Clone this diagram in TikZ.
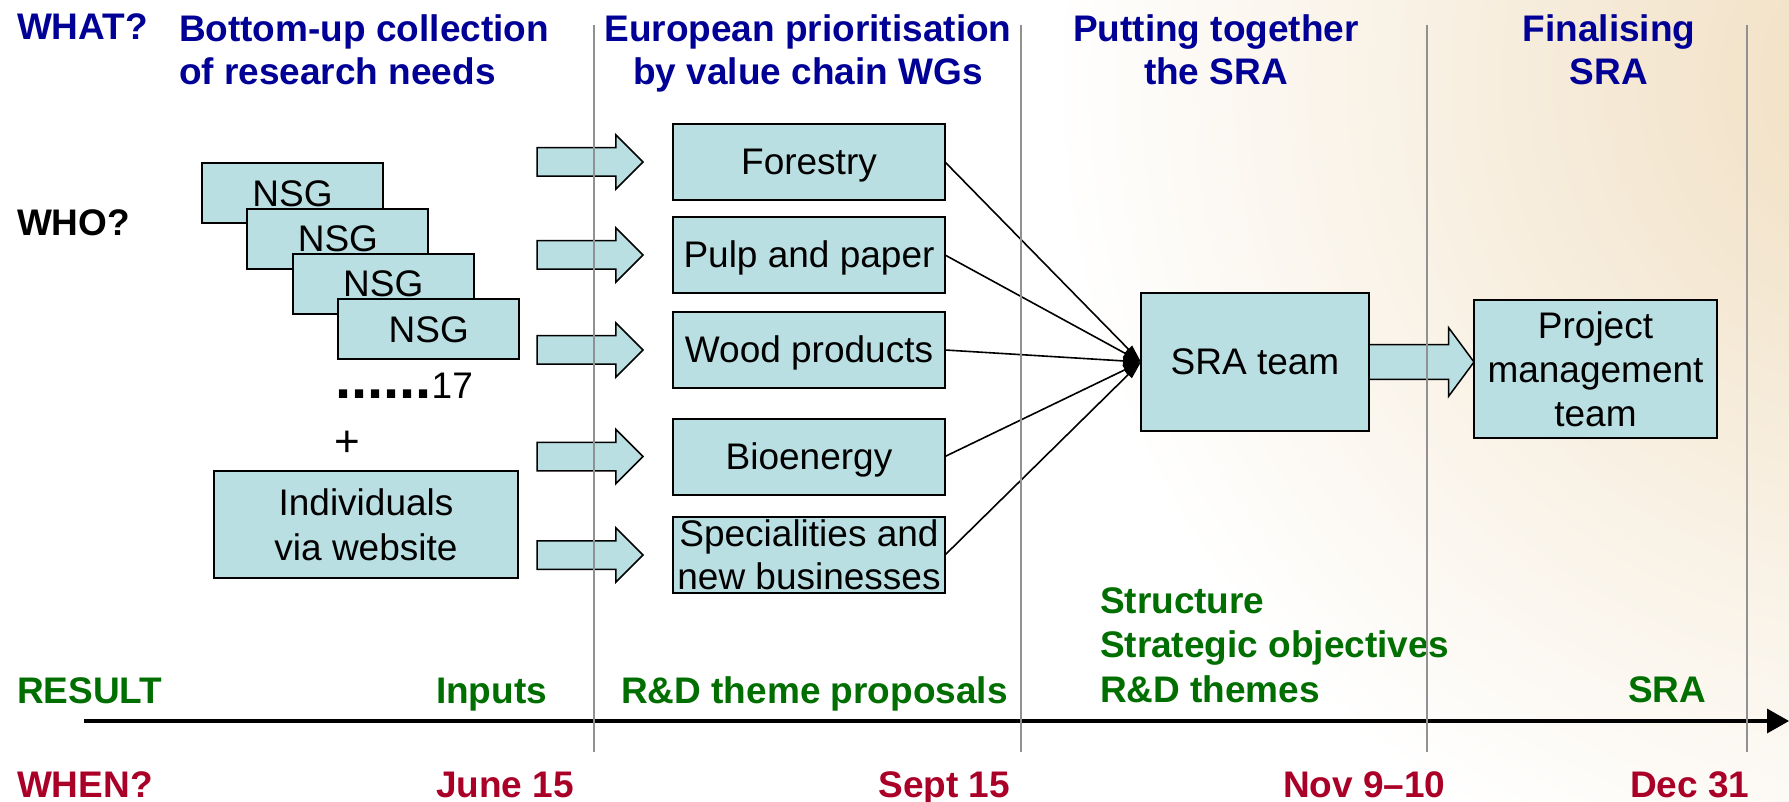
\documentclass[tikz,border=0pt]{standalone}
\usepackage{fontspec}
\setmainfont{Liberation Sans}
\usetikzlibrary{shapes.arrows,arrows.meta,calc}
\definecolor{navy}{RGB}{0,0,150}
\definecolor{dgreen}{RGB}{0,110,0}
\definecolor{dred}{RGB}{170,0,40}
\definecolor{boxfill}{RGB}{186,223,226}
\definecolor{bgbeige}{RGB}{240,222,192}
\definecolor{vgray}{RGB}{145,145,145}
\newcommand\fsbox{\fontsize{37}{43}\selectfont}
\tikzset{
  box/.style={draw=black, line width=2pt, fill=boxfill, font=\fsbox, align=center, inner sep=0pt},
  oneline/.style={text height=33.5pt, text depth=7.8pt},
  wg/.style={box, minimum width=272pt, minimum height=76pt},
  nsg/.style={box, oneline, minimum width=181pt, minimum height=60pt},
  barrow/.style={single arrow, draw=black, line width=1.5pt, fill=boxfill, inner xsep=0pt, inner ysep=13.5pt,
    single arrow head extend=13pt, minimum height=106pt},
  barrowbig/.style={single arrow, draw=black, line width=1.5pt, fill=boxfill, inner xsep=0pt, inner ysep=16.5pt,
    single arrow head extend=17pt, single arrow tip angle=107, minimum height=105pt},
  conn/.style={line width=1.6pt, -{Triangle[length=18pt,width=10pt]}},
  vline/.style={draw=vgray, line width=1.5pt},
  hdr/.style={font=\bfseries\fontsize{37}{43}\selectfont, text=navy},
  res/.style={font=\bfseries\fontsize{37}{44.5}\selectfont, text=dgreen},
  whenlab/.style={font=\bfseries\fontsize{37}{43}\selectfont, text=dred},
}
\begin{document}
\begin{tikzpicture}[x=1pt,y=-1pt, every node/.style={inner sep=0pt, outer sep=0pt}]
\useasboundingbox (0,0) rectangle (1789,802);
% background tint
\begin{scope}
\clip (0,0) rectangle (1789,802);
\shade[inner color=bgbeige, outer color=white] (1900,80) circle (850pt);
\end{scope}

% time axis
\coordinate (axL) at (84,721);
\coordinate (axR) at (1789,721);
\draw[line width=3.5pt, -{Triangle[length=22pt,width=24pt]}] (axL) -- (axR);

% headers
\node[hdr, anchor=base west] (what) at (17,40) {WHAT?};
\node[hdr, anchor=base west] (hA) at (179,42) {\begin{tabular}[t]{@{}l@{}}Bottom-up collection\\of research needs\end{tabular}};
\node[hdr, anchor=base] (hB) at (808,42) {\begin{tabular}[t]{@{}c@{}}European prioritisation\\by value chain WGs\end{tabular}};
\node[hdr, anchor=base] (hC) at (1216,42) {\begin{tabular}[t]{@{}c@{}}Putting together\\the SRA\end{tabular}};
\node[hdr, anchor=base] (hD) at (1609,42) {\begin{tabular}[t]{@{}c@{}}Finalising\\SRA\end{tabular}};
\node[anchor=base west, font=\bfseries\fontsize{37}{43}\selectfont] (who) at (17,236) {WHO?};

% NSG stack
\foreach \i in {0,1,2,3}
  \node[nsg] (nsg\i) at ({292.5+45.4*\i},{193.5+45.3*\i}) {NSG};
\node[anchor=base west] (dots) at (335,398) {{\fontsize{58}{60}\selectfont\bfseries ......}{\fontsize{37}{43}\selectfont 17}};
\node[anchor=base, font=\fontsize{44}{50}\selectfont] (plus) at (347,456) {+};
\node[box, minimum width=304pt, minimum height=107pt, font=\fontsize{37}{45}\selectfont] (ind) at (366,524.5) {Individuals\\via website};

% working groups
\node[wg, oneline] (fo) at (809,162) {Forestry};
\node[wg, oneline] (pp) at (809,255) {Pulp and paper};
\node[wg, oneline] (wp) at (809,350) {Wood products};
\node[wg, oneline] (be) at (809,456.5) {Bioenergy};
\node[wg] (sp) at (809,555) {Specialities and\\new businesses};

% SRA team and project management
\node[box, oneline, minimum width=228pt, minimum height=138pt] (sra) at (1255,362) {SRA team};
\node[box, minimum width=243pt, minimum height=138pt, font=\fontsize{37}{44}\selectfont] (pm) at (1595.5,369) {Project\\management\\team};

% block arrows
\foreach \n in {fo,pp,wp,be,sp}
  \node[barrow, anchor=tip] (arr\n) at ($(\n.west)+(-30,0)$) {};
\node[barrowbig, anchor=tail] (arrsra) at (sra.east) {};

% connectors to SRA team
\foreach \n in {fo,pp,wp,be,sp}
  \draw[conn] (\n.east) -- (sra.west);

% results
\node[res, anchor=base west] (result) at (17,703) {RESULT};
\node[res, anchor=base west] (inputs) at (436,703) {Inputs};
\node[res, anchor=base] (rdp) at (814.5,703) {R\&D theme proposals};
\node[res, anchor=base west] (struct) at (1100,613) {\begin{tabular}[t]{@{}l@{}}Structure\\Strategic objectives\\R\&D themes\end{tabular}};
\node[res, anchor=base west] (srares) at (1628,702) {SRA};

% dates
\node[whenlab, anchor=base west] (when) at (17,797) {WHEN?};
\node[whenlab, anchor=base west] (jun) at (436,797) {June 15};
\node[whenlab, anchor=base east] (sep) at (1010,797) {Sept 15};
\node[whenlab, anchor=base west] (nov) at (1283,797) {Nov 9–10};
\node[whenlab, anchor=base west] (dec) at (1630,797) {Dec 31};

% phase separators
\foreach \x in {594,1021,1427,1747}
  \draw[vline] (\x,25) -- (\x,752);
\end{tikzpicture}
\end{document}
